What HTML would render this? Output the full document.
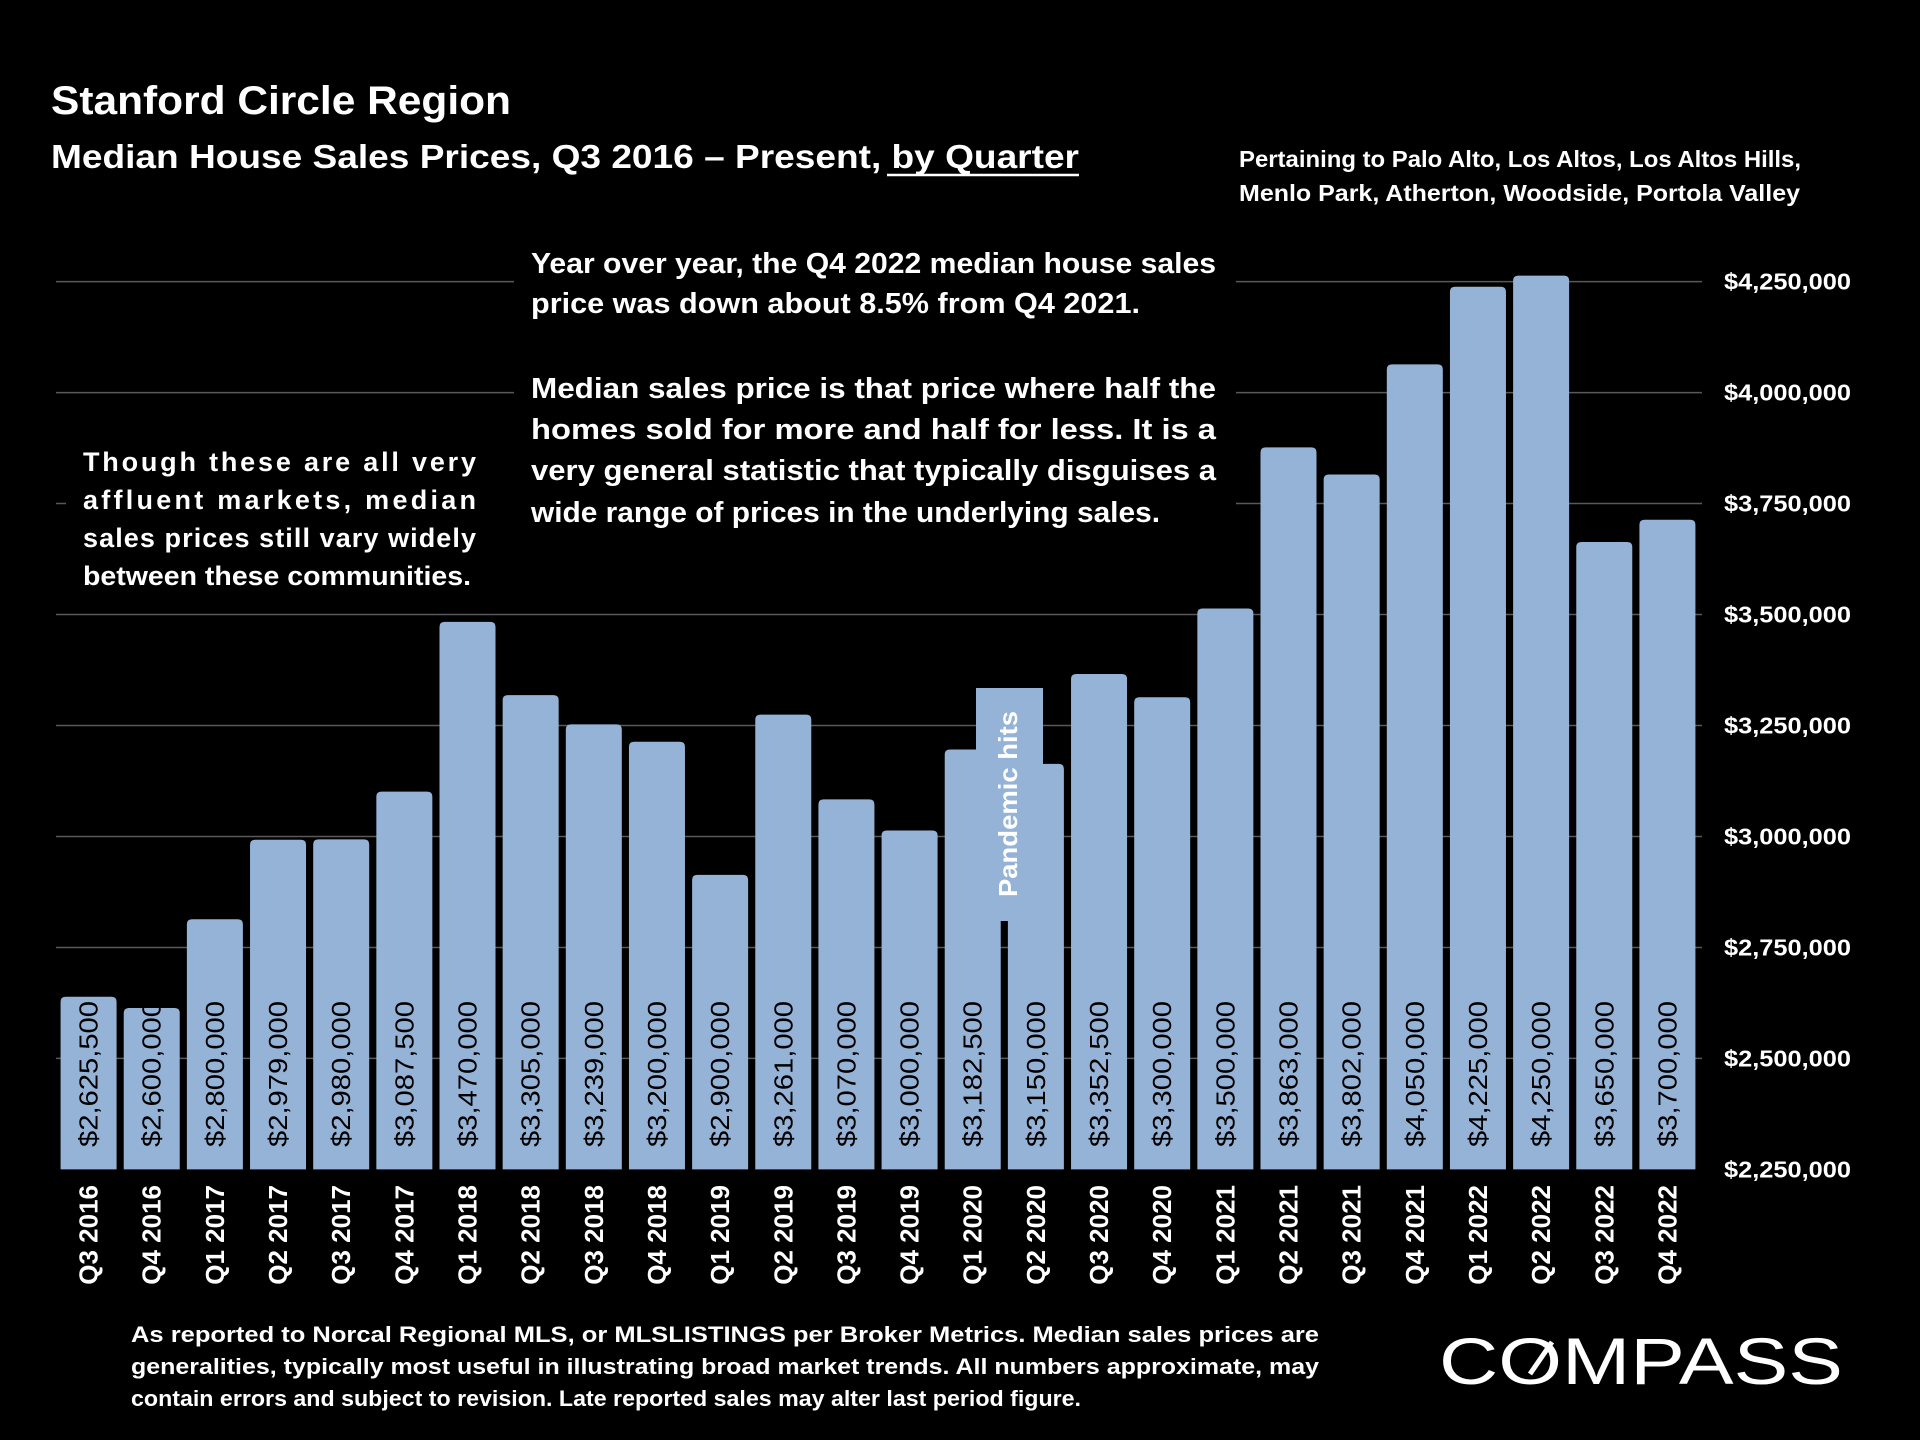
<!DOCTYPE html>
<html><head><meta charset="utf-8"><style>
html,body{margin:0;padding:0;background:#000;}
svg{display:block;font-family:"Liberation Sans",sans-serif;}
</style></head><body>
<svg id="chart" width="1920" height="1440" viewBox="0 0 1920 1440" xmlns="http://www.w3.org/2000/svg">
<rect width="1920" height="1440" fill="#000"/>
<text x="51" y="114" font-size="40" font-weight="bold" fill="#fff" textLength="460" lengthAdjust="spacingAndGlyphs">Stanford Circle Region</text>
<text x="51" y="168" font-size="33" font-weight="bold" fill="#fff" textLength="1028" lengthAdjust="spacingAndGlyphs">Median House Sales Prices, Q3 2016 – Present, by Quarter</text>
<line x1="887" y1="175" x2="1079" y2="175" stroke="#fff" stroke-width="2.5"/>
<g font-size="23" font-weight="bold" fill="#fff">
<text x="1239" y="167" textLength="562" lengthAdjust="spacingAndGlyphs">Pertaining to Palo Alto, Los Altos, Los Altos Hills,</text>
<text x="1239" y="201" textLength="561" lengthAdjust="spacingAndGlyphs">Menlo Park, Atherton, Woodside, Portola Valley</text>
</g>
<g id="grid"></g>
<g id="yaxis"></g>
<g id="bars"></g>
<g id="xaxis"></g>
<rect x="66" y="440" width="448" height="160" fill="#000"/>
<rect x="514" y="240" width="722" height="300" fill="#000"/>
<g font-size="27" font-weight="bold" fill="#fff">
<text x="83" y="471" textLength="393" lengthAdjust="spacing">Though these are all very</text>
<text x="83" y="509" textLength="393" lengthAdjust="spacing">affluent markets, median</text>
<text x="83" y="547" textLength="393" lengthAdjust="spacing">sales prices still vary widely</text>
<text x="83" y="585" textLength="388" lengthAdjust="spacingAndGlyphs">between these communities.</text>
</g>
<g font-size="29" font-weight="bold" fill="#fff">
<text x="531" y="273" textLength="685" lengthAdjust="spacingAndGlyphs">Year over year, the Q4 2022 median house sales</text>
<text x="531" y="313" textLength="609" lengthAdjust="spacingAndGlyphs">price was down about 8.5% from Q4 2021.</text>
<text x="531" y="398" textLength="685" lengthAdjust="spacingAndGlyphs">Median sales price is that price where half the</text>
<text x="531" y="439" textLength="685" lengthAdjust="spacingAndGlyphs">homes sold for more and half for less. It is a</text>
<text x="531" y="480" textLength="685" lengthAdjust="spacingAndGlyphs">very general statistic that typically disguises a</text>
<text x="531" y="522" textLength="629" lengthAdjust="spacingAndGlyphs">wide range of prices in the underlying sales.</text>
</g>
<g id="pandemic">
<rect x="976" y="688" width="67" height="233" fill="#95b3d7"/>
<text transform="translate(1017,897) rotate(-90)" font-size="26" font-weight="bold" fill="#fff" textLength="186" lengthAdjust="spacingAndGlyphs">Pandemic hits</text>
</g>
<g font-size="22" font-weight="bold" fill="#fff">
<text x="131" y="1342" textLength="1188" lengthAdjust="spacingAndGlyphs">As reported to Norcal Regional MLS, or MLSLISTINGS per Broker Metrics. Median sales prices are</text>
<text x="131" y="1374" textLength="1188" lengthAdjust="spacingAndGlyphs">generalities, typically most useful in illustrating broad market trends. All numbers approximate, may</text>
<text x="131" y="1406" textLength="950" lengthAdjust="spacingAndGlyphs">contain errors and subject to revision. Late reported sales may alter last period figure.</text>
</g>
<g>
<text x="1439" y="1384" font-size="66" fill="#fff" textLength="404" lengthAdjust="spacingAndGlyphs">COMPASS</text>
<line x1="1530" y1="1374" x2="1552" y2="1342" stroke="#fff" stroke-width="5"/>
</g>
</svg>
<script>
const categories = ["Q3 2016","Q4 2016","Q1 2017","Q2 2017","Q3 2017","Q4 2017","Q1 2018","Q2 2018","Q3 2018","Q4 2018","Q1 2019","Q2 2019","Q3 2019","Q4 2019","Q1 2020","Q2 2020","Q3 2020","Q4 2020","Q1 2021","Q2 2021","Q3 2021","Q4 2021","Q1 2022","Q2 2022","Q3 2022","Q4 2022"];
const medianPrices = [2625500,2600000,2800000,2979000,2980000,3087500,3470000,3305000,3239000,3200000,2900000,3261000,3070000,3000000,3182500,3150000,3352500,3300000,3500000,3863000,3802000,4050000,4225000,4250000,3650000,3700000];
const yTicks = [2250000,2500000,2750000,3000000,3250000,3500000,3750000,4000000,4250000];
const yMin = 2250000, yMax = 4250000;
const NS = "http://www.w3.org/2000/svg";
function yScale(v){ return 1169.4 - (v - yMin) / (yMax - yMin) * (1169.4 - 281.6); }
const bandStart = 57, bandEnd = 1699;
const slot = (bandEnd - bandStart) / categories.length;
function xCenter(i){ return bandStart + slot * (i + 0.5); }
function fmt(v){ return "$" + v.toLocaleString("en-US"); }
const grid = document.getElementById("grid"), yaxis = document.getElementById("yaxis");
const bars = document.getElementById("bars"), xaxis = document.getElementById("xaxis");
yTicks.forEach(function(t){
  const y = yScale(t);
  if (t > yMin) {
    const l = document.createElementNS(NS, "line");
    l.setAttribute("x1", 56); l.setAttribute("x2", 1702);
    l.setAttribute("y1", y); l.setAttribute("y2", y);
    l.setAttribute("stroke", "#595959"); l.setAttribute("stroke-width", 1.5);
    
    
    grid.appendChild(l);
  }
  const tx = document.createElementNS(NS, "text");
  tx.setAttribute("x", 1724); tx.setAttribute("y", y + 8);
  tx.setAttribute("font-size", 23); tx.setAttribute("font-weight", "bold");
  tx.setAttribute("fill", "#fff");
  tx.setAttribute("textLength", 127); tx.setAttribute("lengthAdjust", "spacingAndGlyphs");
  tx.textContent = fmt(t);
  
  
  yaxis.appendChild(tx);
});
const bw = 56, base = yScale(yMin);
medianPrices.forEach(function(v, i){
  const cx = xCenter(i), top = yScale(v) - 6, r = 5;
  const p = document.createElementNS(NS, "path");
  const x0 = cx - bw/2, x1 = cx + bw/2;
  p.setAttribute("d", "M"+x0+","+base+" L"+x0+","+(top+r)+" Q"+x0+","+top+" "+(x0+r)+","+top+" L"+(x1-r)+","+top+" Q"+x1+","+top+" "+x1+","+(top+r)+" L"+x1+","+base+" Z");
  p.setAttribute("fill", "#95b3d7");
  
  
  bars.appendChild(p);
  const vl = document.createElementNS(NS, "text");
  vl.setAttribute("transform", "translate(" + (cx + 9) + ",1147) rotate(-90)");
  vl.setAttribute("font-size", 26); vl.setAttribute("fill", "#000");
  vl.setAttribute("textLength", 146); vl.setAttribute("lengthAdjust", "spacingAndGlyphs");
  vl.textContent = fmt(v);
  
  
  bars.appendChild(vl);
  const xl = document.createElementNS(NS, "text");
  xl.setAttribute("transform", "translate(" + (cx + 9) + ",1185) rotate(-90)");
  xl.setAttribute("text-anchor", "end");
  xl.setAttribute("font-size", 26); xl.setAttribute("font-weight", "bold"); xl.setAttribute("fill", "#fff");
  xl.textContent = categories[i];
  
  
  xaxis.appendChild(xl);
});
</script>
</body></html>
